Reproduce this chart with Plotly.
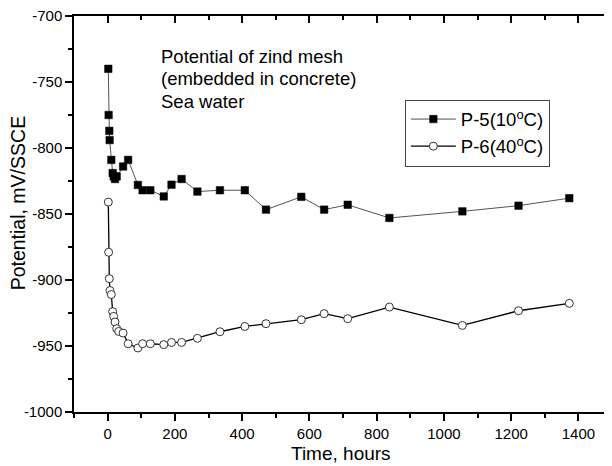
import plotly.graph_objects as go

# Data
t_p5 = [2, 3, 5, 6, 11, 15, 18, 22, 27, 46, 61, 90, 104, 127, 167, 190, 220, 267,
        334, 408, 471, 576, 644, 714, 838, 1055, 1222, 1373]
v_p5 = [-740, -775, -787, -794, -809, -819, -821.5, -823.5, -821.5, -814, -809, -828, -832, -832,
        -836.7, -827.8, -823.5, -833, -832, -832, -846.7, -837, -846.7, -843, -853, -848, -843.7, -838]

t_p6 = [2, 3, 5, 7, 11, 15, 18, 22, 27, 33, 46, 61, 90, 104, 127, 167, 190, 220, 267,
        334, 408, 471, 576, 644, 714, 838, 1055, 1222, 1373]
v_p6 = [-841, -879, -899, -908, -911, -924, -927.6, -931.8, -936.9, -939, -940.2, -948.3, -951.5,
        -948.3, -948.3, -949, -947.3, -947.3, -944.2, -939.2, -935.2, -933.1, -930.1, -925.5,
        -929.3, -920.5, -934.4, -923.3, -917.7]

name_p5 = "P-5(10<sup>o</sup>C)"
name_p6 = "P-6(40<sup>o</sup>C)"
note_lines = ["Potential of zind mesh", "(embedded in concrete)", "Sea water"]
x_title = "Time, hours"
y_title = "Potential, mV/SSCE"

x_tickvals = [0, 200, 400, 600, 800, 1000, 1200, 1400]
x_ticktext = ["0", "200", "400", "600", "800", "1000", "1200", "1400"]
y_tickvals = [-1000, -950, -900, -850, -800, -750, -700]
y_ticktext = ["-1000", "-950", "-900", "-850", "-800", "-750", "-700"]

x_range = [-100, 1500]
y_range = [-1000, -700]

FONT = "Arial, Liberation Sans, sans-serif"

fig = go.Figure()
fig.add_trace(go.Scatter(
    x=t_p5, y=v_p5, mode="lines+markers", name=name_p5,
    line=dict(color="#555555", width=1),
    marker=dict(symbol="square", size=7.5, color="black", line=dict(color="black", width=0.5)),
))
fig.add_trace(go.Scatter(
    x=t_p6, y=v_p6, mode="lines+markers", name=name_p6,
    line=dict(color="black", width=1.3),
    marker=dict(symbol="circle", size=8, color="white", line=dict(color="#333333", width=1)),
))
# empty helper trace so the mirrored (top/right) axes are drawn
fig.add_trace(go.Scatter(x=[], y=[], xaxis="x2", yaxis="y2", showlegend=False, hoverinfo="skip"))

axis_common = dict(showgrid=False, zeroline=False, showline=True, linecolor="black",
                   linewidth=1.5, automargin=False)

# The page body adds an 8 px offset, so the figure is 8 px smaller and margins compensate.
fig.update_layout(
    width=604, height=458,
    margin=dict(l=66, r=0, t=8, b=54, autoexpand=False),
    paper_bgcolor="white", plot_bgcolor="white",
    font=dict(family=FONT, color="black"),
    showlegend=True,
    legend=dict(
        x=0.615, y=0.789, xanchor="left", yanchor="top",
        bgcolor="white", bordercolor="#444444", borderwidth=1,
        font=dict(family=FONT, size=18.5, color="black"),
        itemwidth=45, tracegroupgap=0,
    ),
    xaxis=dict(
        **axis_common, range=x_range, tickmode="array", tickvals=x_tickvals, ticktext=x_ticktext,
        ticks="outside", ticklen=7, tickwidth=1.5, tickcolor="black", ticklabeloverflow="allow",
        minor=dict(dtick=100, tick0=0, ticks="outside", ticklen=4, tickwidth=1.5, tickcolor="black"),
        tickfont=dict(size=15, family=FONT),
    ),
    yaxis=dict(
        **axis_common, range=y_range, tickmode="array", tickvals=y_tickvals, ticktext=y_ticktext,
        ticks="outside", ticklen=7, tickwidth=1.5, tickcolor="black", ticklabeloverflow="allow",
        minor=dict(dtick=25, tick0=-1000, ticks="outside", ticklen=4, tickwidth=1.5, tickcolor="black"),
        tickfont=dict(size=15, family=FONT),
    ),
    xaxis2=dict(
        **axis_common, overlaying="x", side="top", anchor="y2", range=x_range,
        tickmode="linear", tick0=0, dtick=200, showticklabels=False,
        ticks="inside", ticklen=7, tickwidth=1.5, tickcolor="black",
        minor=dict(dtick=100, tick0=0, ticks="inside", ticklen=4, tickwidth=1.5, tickcolor="black"),
    ),
    yaxis2=dict(
        **axis_common, overlaying="y", side="right", anchor="x2", range=y_range,
        tickmode="linear", tick0=-1000, dtick=50, showticklabels=False,
        ticks="inside", ticklen=7, tickwidth=1.5, tickcolor="black",
        minor=dict(dtick=25, tick0=-1000, ticks="inside", ticklen=4, tickwidth=1.5, tickcolor="black"),
    ),
)

# note text, one annotation per line (reference line spacing ~22.5 px)
for i, line in enumerate(note_lines):
    fig.add_annotation(
        text=line, xref="paper", yref="paper",
        x=(159 - 74) / 538, y=(412.3 - (56.5 + 22.5 * i)) / 396.3,
        xanchor="left", yanchor="middle", align="left", showarrow=False,
        font=dict(family=FONT, size=18.5, color="black"),
    )

# axis titles
fig.add_annotation(
    text=x_title, xref="paper", yref="paper", x=(341 - 74) / 538, y=(412.3 - 453.5) / 396.3,
    xanchor="center", yanchor="middle", showarrow=False,
    font=dict(family=FONT, size=19, color="black"),
)
fig.add_annotation(
    text=y_title, xref="paper", yref="paper", x=(17.5 - 74) / 538, y=(412.3 - 203) / 396.3,
    xanchor="center", yanchor="middle", showarrow=False, textangle=-90,
    font=dict(family=FONT, size=19.5, color="black"),
)

fig.write_html("out.html")
